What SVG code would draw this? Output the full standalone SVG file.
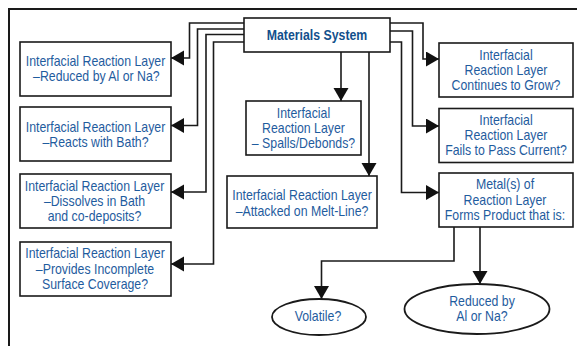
<svg xmlns="http://www.w3.org/2000/svg" width="577" height="346" viewBox="0 0 577 346">
<style>
.box{fill:#fff;stroke:#1a1a1a;stroke-width:1.6}
.ell{fill:#fff;stroke:#1a1a1a;stroke-width:1.8}
.t{font-family:"Liberation Sans",Arial,sans-serif;font-size:14px;fill:#1f5c9e;text-anchor:middle}
.tb{font-weight:bold;fill:#124f8c}
.c{fill:none;stroke:#1a1a1a;stroke-width:1.6}
.frame{fill:none;stroke:#1a1a1a;stroke-width:2}
</style>
<defs>
<marker id="ah" markerUnits="userSpaceOnUse" markerWidth="14" markerHeight="16" refX="13" refY="7.5" orient="auto">
<path d="M0,0 L13,7.5 L0,15 z" fill="#111"/>
</marker>
</defs>
<path class="frame" d="M9,346 V9 H577"/>
<g id="connectors">
<polyline class="c" points="244,23 189.5,23 189.5,58 171,58" marker-end="url(#ah)"/>
<polyline class="c" points="244,29 197.5,29 197.5,125.5 171,125.5" marker-end="url(#ah)"/>
<polyline class="c" points="244,34.5 206,34.5 206,192 171,192" marker-end="url(#ah)"/>
<polyline class="c" points="244,42 213.5,42 213.5,264 171,264" marker-end="url(#ah)"/>
<polyline class="c" points="390,23 423,23 423,59 439,59" marker-end="url(#ah)"/>
<polyline class="c" points="390,31 412.5,31 412.5,126 439,126" marker-end="url(#ah)"/>
<polyline class="c" points="390,42 401.5,42 401.5,192.5 439,192.5" marker-end="url(#ah)"/>
<polyline class="c" points="341,52 341,101" marker-end="url(#ah)"/>
<polyline class="c" points="369,52 369,176" marker-end="url(#ah)"/>
<polyline class="c" points="454,227 454,261 321.5,261 321.5,299" marker-end="url(#ah)"/>
<polyline class="c" points="480,227 480,284" marker-end="url(#ah)"/>
</g>
<g id="materials-system">
<rect class="box" x="244" y="18" width="146" height="34"/>
<g transform="translate(317 0) scale(0.88 1)"><text class="t tb" x="0" y="40">Materials System</text></g>
</g>
<g id="reduced-al-na">
<rect class="box" x="20" y="42" width="151" height="54"/>
<g transform="translate(95.5 0) scale(0.88 1)">
<text class="t" x="0" y="66">Interfacial Reaction Layer</text>
<text class="t" x="1" y="81">–Reduced by Al or Na?</text>
</g>
</g>
<g id="reacts-bath">
<rect class="box" x="20" y="107" width="151" height="54"/>
<g transform="translate(95.5 0) scale(0.88 1)">
<text class="t" x="0" y="132">Interfacial Reaction Layer</text>
<text class="t" x="0" y="147">–Reacts with Bath?</text>
</g>
</g>
<g id="dissolves">
<rect class="box" x="20" y="174" width="151" height="54"/>
<g transform="translate(94.5 0) scale(0.88 1)">
<text class="t" x="0" y="191">Interfacial Reaction Layer</text>
<text class="t" x="0" y="206">–Dissolves in Bath</text>
<text class="t" x="0" y="221">and co-deposits?</text>
</g>
</g>
<g id="incomplete">
<rect class="box" x="20" y="242" width="151" height="54"/>
<g transform="translate(95 0) scale(0.88 1)">
<text class="t" x="0" y="258.5">Interfacial Reaction Layer</text>
<text class="t" x="0" y="274">–Provides Incomplete</text>
<text class="t" x="0" y="289.5">Surface Coverage?</text>
</g>
</g>
<g id="spalls">
<rect class="box" x="246" y="101" width="115" height="54"/>
<g transform="translate(303.5 0) scale(0.88 1)">
<text class="t" x="0" y="118">Interfacial</text>
<text class="t" x="0" y="133">Reaction Layer</text>
<text class="t" x="0" y="148">– Spalls/Debonds?</text>
</g>
</g>
<g id="melt-line">
<rect class="box" x="227" y="176" width="150" height="52"/>
<g transform="translate(302 0) scale(0.88 1)">
<text class="t" x="0" y="200.5">Interfacial Reaction Layer</text>
<text class="t" x="0" y="216.5">–Attacked on Melt-Line?</text>
</g>
</g>
<g id="grow">
<rect class="box" x="439" y="43" width="134" height="54"/>
<g transform="translate(506 0) scale(0.88 1)">
<text class="t" x="0" y="60">Interfacial</text>
<text class="t" x="0" y="75">Reaction Layer</text>
<text class="t" x="0" y="90">Continues to Grow?</text>
</g>
</g>
<g id="current">
<rect class="box" x="439" y="108.5" width="134" height="54"/>
<g transform="translate(506 0) scale(0.88 1)">
<text class="t" x="0" y="125">Interfacial</text>
<text class="t" x="0" y="140">Reaction Layer</text>
<text class="t" x="0" y="155">Fails to Pass Current?</text>
</g>
</g>
<g id="metals">
<rect class="box" x="439" y="173" width="134" height="54"/>
<g transform="translate(505 0) scale(0.88 1)">
<text class="t" x="0" y="189">Metal(s) of</text>
<text class="t" x="0" y="205">Reaction Layer</text>
<text class="t" x="0" y="220">Forms Product that is:</text>
</g>
</g>
<g id="volatile">
<ellipse class="ell" cx="319" cy="317" rx="47" ry="18"/>
<g transform="translate(318 0) scale(0.88 1)">
<text class="t" x="0" y="321.5">Volatile?</text>
</g>
</g>
<g id="reduced">
<ellipse class="ell" cx="477" cy="309" rx="72.5" ry="25"/>
<g transform="translate(482 0) scale(0.88 1)">
<text class="t" x="0" y="306.5">Reduced by</text>
<text class="t" x="0" y="321.5">Al or Na?</text>
</g>
</g>
</svg>
